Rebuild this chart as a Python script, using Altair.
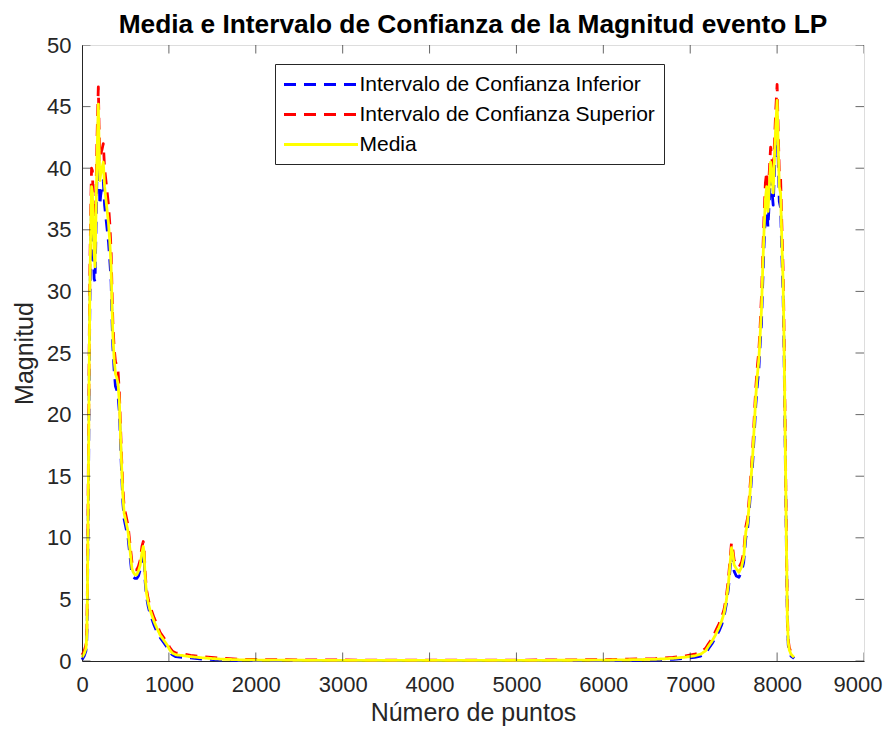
import altair as alt
import pandas as pd

# ---- data ----
puntos = [0, 25, 45, 55, 62, 68, 75, 82, 90, 100, 110, 120, 130, 140, 150, 160, 170, 180, 188,
          196, 205, 215, 230, 245, 260, 275, 290, 305, 320, 335, 345, 355, 370, 385, 400, 415,
          430, 440, 455, 470, 485, 500, 515, 530, 545, 560, 575, 590, 610, 630, 650, 670, 690,
          705, 715, 725, 740, 760, 780, 800, 830, 860, 900, 940, 980, 1010, 1040, 1080, 1150,
          1250, 1400, 1600, 1800, 2000, 2500, 3000, 3500, 4000, 4500, 5000, 5500, 6000, 6300,
          6600, 6800, 6950, 7050, 7120, 7180, 7210, 7250, 7290, 7330, 7360, 7390, 7415, 7440,
          7460, 7475, 7490, 7505, 7530, 7560, 7590, 7615, 7640, 7660, 7680, 7700, 7720, 7740,
          7755, 7770, 7790, 7805, 7820, 7835, 7850, 7865, 7880, 7895, 7910, 7925, 7940, 7955,
          7970, 7985, 8000, 8012, 8025, 8040, 8055, 8068, 8078, 8088, 8098, 8108, 8118, 8128,
          8140, 8160, 8180, 8195]

media = [0.3, 0.6, 1.0, 2.0, 5.0, 10.0, 16.0, 23.0, 30.0, 35.0, 38.5, 38.0, 35.0, 33.0, 32.0, 36.0,
         40.0, 43.0, 45.2, 42.0, 39.0, 39.5, 40.0, 40.5, 38.5, 37.5, 36.5, 35.5, 34.0, 32.0, 29.0,
         26.5, 24.5, 23.3, 23.0, 22.5, 21.0, 19.0, 16.0, 13.5, 12.0, 11.5, 11.0, 10.5, 9.5, 8.5,
         7.5, 7.2, 7.0, 7.0, 7.3, 7.8, 8.8, 9.3, 8.8, 7.0, 5.6, 4.8, 4.2, 3.8, 3.2, 2.7, 2.1, 1.7,
         1.3, 0.9, 0.65, 0.5, 0.45, 0.35, 0.25, 0.15, 0.1, 0.08, 0.06, 0.05, 0.05, 0.05, 0.05,
         0.05, 0.06, 0.07, 0.1, 0.14, 0.22, 0.32, 0.42, 0.55, 0.85, 1.2, 1.6, 2.1, 2.7, 3.2, 3.9,
         4.9, 6.3, 8.0, 9.2, 8.7, 7.8, 7.5, 7.2, 7.6, 8.4, 10.5, 11.2, 12.8, 14.8, 16.8, 19.5,
         21.5, 23.0, 24.5, 26.5, 28.5, 32.0, 35.0, 37.5, 38.5, 36.5, 38.5, 40.5, 39.5, 38.0, 41.0,
         43.5, 45.5, 42.0, 38.5, 38.0, 34.0, 31.0, 27.0, 21.0, 15.0, 9.0, 3.5, 1.5, 0.9, 0.55,
         0.4, 0.3]

inferior = [0.1, 0.4, 0.8, 1.6, 4.2, 9.0, 14.5, 21.5, 28.5, 33.5, 37.0, 36.0, 33.0, 31.0, 30.8,
            34.5, 38.5, 41.5, 43.8, 40.5, 37.0, 37.8, 38.5, 39.0, 37.0, 36.0, 35.0, 34.0, 32.5,
            30.8, 27.8, 25.5, 23.6, 22.3, 22.0, 21.5, 20.2, 18.3, 15.4, 12.9, 11.5, 11.0, 10.5,
            10.0, 9.0, 8.0, 7.0, 6.8, 6.7, 6.7, 6.9, 7.4, 8.4, 8.9, 8.4, 6.6, 5.3, 4.5, 3.9, 3.5,
            2.9, 2.4, 1.9, 1.5, 1.1, 0.7, 0.5, 0.35, 0.3, 0.25, 0.15, 0.08, 0.05, 0.04, 0.03, 0.03,
            0.03, 0.03, 0.03, 0.03, 0.03, 0.04, 0.05, 0.08, 0.14, 0.22, 0.3, 0.4, 0.65, 1.0, 1.4,
            1.9, 2.4, 2.9, 3.6, 4.6, 5.9, 7.6, 8.8, 8.3, 7.3, 6.9, 6.8, 7.2, 8.0, 10.0, 10.7, 12.3,
            14.3, 16.2, 18.8, 20.8, 22.2, 23.7, 25.7, 27.4, 30.8, 33.8, 36.2, 37.3, 35.2, 37.3,
            39.3, 38.2, 37.0, 39.8, 42.3, 44.2, 40.8, 37.3, 36.8, 32.8, 30.0, 26.0, 20.2, 14.3,
            8.5, 3.1, 1.3, 0.7, 0.4, 0.3, 0.2]

superior = [0.5, 0.8, 1.3, 2.4, 5.8, 11.0, 17.5, 24.5, 31.5, 36.5, 40.0, 39.8, 37.0, 35.0, 33.5,
            37.5, 41.5, 44.5, 46.6, 43.5, 41.0, 41.2, 41.5, 42.0, 40.0, 39.0, 38.0, 37.0, 35.5,
            33.2, 30.2, 27.5, 25.4, 24.3, 24.0, 23.5, 21.8, 19.7, 16.6, 14.1, 12.5, 12.0, 11.5,
            11.0, 10.0, 9.0, 8.0, 7.6, 7.4, 7.4, 7.7, 8.2, 9.3, 9.7, 9.2, 7.4, 5.9, 5.1, 4.5, 4.1,
            3.5, 3.0, 2.3, 1.9, 1.5, 1.1, 0.8, 0.65, 0.6, 0.45, 0.35, 0.22, 0.15, 0.12, 0.09, 0.08,
            0.07, 0.07, 0.07, 0.07, 0.09, 0.11, 0.15, 0.2, 0.3, 0.42, 0.55, 0.7, 1.05, 1.4, 1.8,
            2.4, 3.0, 3.5, 4.2, 5.2, 6.7, 8.4, 9.6, 9.1, 8.2, 7.9, 7.6, 8.0, 8.8, 10.9, 11.6, 13.3,
            15.3, 17.4, 20.2, 22.2, 23.7, 25.2, 27.2, 29.6, 33.0, 36.2, 38.8, 39.7, 37.8, 39.7,
            41.7, 40.8, 39.5, 42.2, 44.8, 46.8, 43.2, 39.7, 39.2, 35.2, 32.0, 28.0, 21.8, 15.7,
            9.5, 3.9, 1.7, 1.1, 0.7, 0.5, 0.4]

series_names = ["Intervalo de Confianza Inferior", "Intervalo de Confianza Superior", "Media"]
series_colors = ["#0000ff", "#ff0000", "#ffff00"]

x_ticks = [0, 1000, 2000, 3000, 4000, 5000, 6000, 7000, 8000, 9000]
y_ticks = [0, 5, 10, 15, 20, 25, 30, 35, 40, 45, 50]

# ---- long table ----
rows = []
for name, vals in zip(series_names, [inferior, superior, media]):
    for xv, yv in zip(puntos, vals):
        rows.append({"x": xv, "y": yv, "serie": name})
df = pd.DataFrame(rows)

FONT = "Liberation Sans, Arial, Helvetica, sans-serif"
AX = "#262626"

xscale = alt.Scale(domain=[0, 9000], nice=False, zero=False)
yscale = alt.Scale(domain=[0, 50], nice=False)

leg = alt.Legend(orient="none", legendX=193, legendY=19, title=None,
                 strokeColor=AX, fillColor="white", padding=9,
                 symbolType="M-3.7,0H3.7", symbolSize=400, symbolOffset=25.5,
                 labelFontSize=21, labelFont=FONT, labelColor="#000000",
                 labelOffset=27, rowPadding=8, labelLimit=400)

last_x = "datum.value == 9000"

lines = alt.Chart(df).mark_line(strokeJoin="round").encode(
    x=alt.X("x:Q", scale=xscale,
            axis=alt.Axis(values=x_ticks, format="d", ticks=False, grid=False, domainColor=AX,
                          labelFontSize=22, labelColor=AX, labelPadding=13, labelFont=FONT,
                          labelAlign={"condition": {"test": last_x, "value": "right"},
                                      "value": "center"},
                          labelOffset={"condition": {"test": last_x, "value": 18},
                                       "value": 0},
                          title="Número de puntos", titleFontSize=25, titleFont=FONT,
                          titleFontWeight="normal", titleColor=AX, titleY=59,
                          titleBaseline="alphabetic", labelFlush=False)),
    y=alt.Y("y:Q", scale=yscale,
            axis=alt.Axis(values=y_ticks, format="d", ticks=False, grid=False, domainColor=AX,
                          labelFontSize=22, labelColor=AX, labelPadding=11, labelFont=FONT,
                          title="Magnitud", titleFontSize=25, titleFont=FONT,
                          titleFontWeight="normal", titleColor=AX, titleX=-50,
                          titleBaseline="alphabetic", labelFlush=False)),
    color=alt.Color("serie:N",
                    scale=alt.Scale(domain=series_names, range=series_colors),
                    legend=leg),
    strokeDash=alt.StrokeDash("serie:N",
                              scale=alt.Scale(domain=series_names,
                                              range=[[12, 8], [12, 8], [1, 0]]),
                              legend=leg),
    strokeWidth=alt.StrokeWidth("serie:N",
                                scale=alt.Scale(domain=series_names, range=[2.8, 2.8, 1.1]),
                                legend=leg),
    order=alt.Order("x:Q"),
)

# inward tick marks on all four sides (clipped half of a centred tick)
bx = pd.DataFrame({"t": x_ticks, "lo": [0] * len(x_ticks), "hi": [50] * len(x_ticks)})
by = pd.DataFrame({"t": y_ticks, "lo": [0] * len(y_ticks), "hi": [9000] * len(y_ticks)})

tick_style = dict(color=AX, thickness=1, size=17, clip=True)
t_bottom = alt.Chart(bx).mark_tick(orient="vertical", **tick_style).encode(
    x=alt.X("t:Q", scale=xscale, axis=None), y=alt.Y("lo:Q", scale=yscale, axis=None))
t_top = alt.Chart(bx).mark_tick(orient="vertical", **tick_style).encode(
    x=alt.X("t:Q", scale=xscale, axis=None), y=alt.Y("hi:Q", scale=yscale, axis=None))
t_left = alt.Chart(by).mark_tick(orient="horizontal", **tick_style).encode(
    y=alt.Y("t:Q", scale=yscale, axis=None), x=alt.X("lo:Q", scale=xscale, axis=None))
t_right = alt.Chart(by).mark_tick(orient="horizontal", **tick_style).encode(
    y=alt.Y("t:Q", scale=yscale, axis=None), x=alt.X("hi:Q", scale=xscale, axis=None))

chart = alt.layer(lines, t_bottom, t_top, t_left, t_right).resolve_axis(
    x="independent", y="independent"
).properties(
    width=782,
    height=616,
    autosize=alt.AutoSizeParams(type="none"),
    padding={"left": 74, "top": 37, "right": 19, "bottom": 65},
    title=alt.TitleParams("Media e Intervalo de Confianza de la Magnitud evento LP",
                          fontSize=26.3, fontWeight="bold", font=FONT, color="#000000",
                          anchor="middle", frame="group", baseline="alphabetic",
                          offset=12, dy=37),
).configure_view(stroke=AX, strokeWidth=1).configure(background="white")

chart.save("out.html", embed_options={"renderer": "svg", "actions": False})
